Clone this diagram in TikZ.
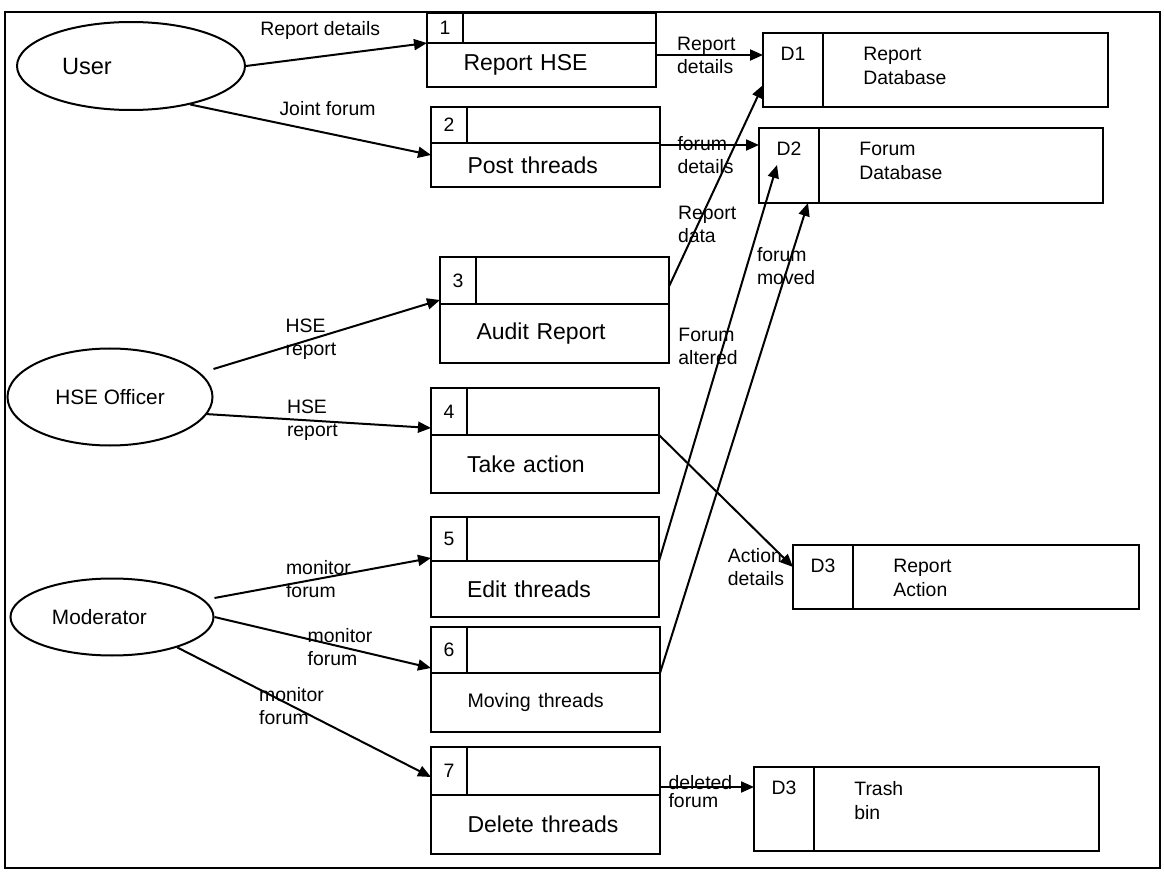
\documentclass[tikz,border=0pt]{standalone}
\usepackage{fontspec}
\setmainfont{Liberation Sans}
\usetikzlibrary{arrows.meta,shapes.geometric}
\tikzset{
  flow/.style={draw, line width=1pt, -{Triangle[length=6.5pt,width=5.5pt]}},
  cell/.style={draw, line width=1.1pt, inner sep=0pt, outer sep=0pt},
  actor/.style={ellipse, draw, line width=1pt, inner sep=0pt,
    font=\fontsize{10.4}{12}\selectfont},
  proctext/.style={font=\fontsize{11.5}{13}\selectfont, text width=78pt, align=left},
  lbl/.style={font=\fontsize{9.7}{11.5}\selectfont, align=left, inner sep=0pt},
}
\begin{document}
\begin{tikzpicture}[x=0.5pt, y=-0.5pt]
  \useasboundingbox (0,0) rectangle (1164,872);
  \draw[line width=1pt] (5,12) rectangle (1160,868);
  % external entities
  \node[actor, minimum width=114pt, minimum height=44pt, text width=69pt,
    align=left, font=\fontsize{11.8}{13}\selectfont] (user) at (131,66) {User};
  \node[actor, minimum width=102.5pt, minimum height=48.5pt] (hse) at (110,397)
    {HSE Officer};
  \node[actor, minimum width=101.5pt, minimum height=38.5pt, text width=60pt,
    align=left] (mod) at (112,617) {Moderator};
  % processes
  \foreach \pn/\xa/\xb/\ya/\yb/\yc/\txt in {
      1/427/656/13/43/87/{Report HSE},
      2/431/660/107/143/187/{Post threads},
      3/440/669/257/304/363/{Audit Report},
      4/431/659/388/435/493/{Take action},
      5/431/659/517/561/617/{Edit threads},
      6/431/660/627/673/732/{\fontsize{9.8}{11}\selectfont Moving threads},
      7/431/660/747/795/854/{Delete threads}} {
    \node[cell, proctext, anchor=north west, minimum width=(\xb-\xa)*0.5pt,
      minimum height=(\yc-\yb)*0.5pt] (p\pn) at (\xa,\yb) {\txt};
    \node[cell, anchor=south west, minimum width=(\xb-\xa)*0.5pt,
      minimum height=(\yb-\ya)*0.5pt] (top\pn) at (p\pn.north west) {};
    \node[cell, lbl, anchor=south west, minimum width=18pt,
      minimum height=(\yb-\ya)*0.5pt] (num\pn) at (p\pn.north west) {\pn};
  }
  % data stores
  \foreach \st/\xa/\xb/\ya/\yb/\id/\txt in {
      d1/763/1108/33/107/D1/{Report\\Database},
      d2/759/1103/128/203/D2/{Forum\\Database},
      d3/793/1139/545/609/D3/{Report\\Action},
      d4/754/1099/767/851/D3/{Trash\\bin}} {
    \node[cell, anchor=north west, minimum width=30pt,
      minimum height=(\yb-\ya)*0.5pt] (\st) at (\xa,\ya) {};
    \node[cell, anchor=north west, minimum width=(\xb-\xa-60)*0.5pt,
      minimum height=(\yb-\ya)*0.5pt] (\st txt) at (\st.north east) {};
    \node[lbl, anchor=north] (\st id) at ([yshift=-7pt]\st.north) {\id};
    \node[lbl, anchor=north west, font=\fontsize{9.7}{12}\selectfont] (\st name)
      at ([xshift=20pt, yshift=-7pt]\st txt.north west) {\txt};
  }
  % data flows
  \draw[flow] (user.east) -- (p1.north west)
    node[lbl, pos=.41, yshift=13pt] {Report details};
  \draw[flow] (user.-33) -- ([yshift=-6pt]p2.north west)
    node[lbl, pos=.57, yshift=12.5pt] {Joint forum};
  \draw[flow] ([yshift=-6pt]p1.north east) -- ([yshift=-11pt]d1.north west)
    node[lbl, pos=.47] {Report\\details};
  \draw[flow] ([yshift=-1pt]p2.north east) -- ([yshift=-8.5pt]d2.north west)
    node[lbl, pos=.46, yshift=-5pt] {forum\\details};
  \draw[flow] ([yshift=-3pt]top3.east) -- ([yshift=-26pt]d1.north west)
    node[lbl, pos=.31, xshift=4.5pt] {Report\\data};
  \draw[flow] (p5.north east) -- ([xshift=9pt, yshift=-18.5pt]d2.north west)
    node[lbl, pos=.543, xshift=-7.5pt] {Forum\\altered};
  \draw[flow] (p6.north east) -- ([xshift=-5.5pt]d2.south east)
    node[lbl, pos=.866, xshift=-1pt] {forum\\moved};
  \draw[flow] (p4.north east) -- ([yshift=5pt]d3.west)
    node[lbl, pos=1, left=4pt] {Action\\details};
  \draw[flow] ([yshift=14pt]hse.east) -- ([yshift=2pt]p3.north west)
    node[lbl, pos=.43] {HSE\\report};
  \draw[flow] (hse.-10) -- ([yshift=3.5pt]p4.north west)
    node[lbl, pos=.47] {HSE\\report};
  \draw[flow] ([yshift=9.5pt]mod.east) -- ([yshift=1.5pt]p5.north west)
    node[lbl, pos=.48] {monitor\\forum};
  \draw[flow] (mod.east) -- ([yshift=2.5pt]p6.north west)
    node[lbl, pos=.58] {monitor\\forum};
  \draw[flow] (mod.-25) -- ([yshift=9pt]p7.north west)
    node[lbl, pos=.45] {monitor\\forum};
  \draw[flow] ([yshift=4pt]p7.north east) -- ([yshift=-10pt]d4.north west)
    node[lbl, pos=.43, yshift=-2.5pt] {deleted\\[-2.5pt]forum};
\end{tikzpicture}
\end{document}
